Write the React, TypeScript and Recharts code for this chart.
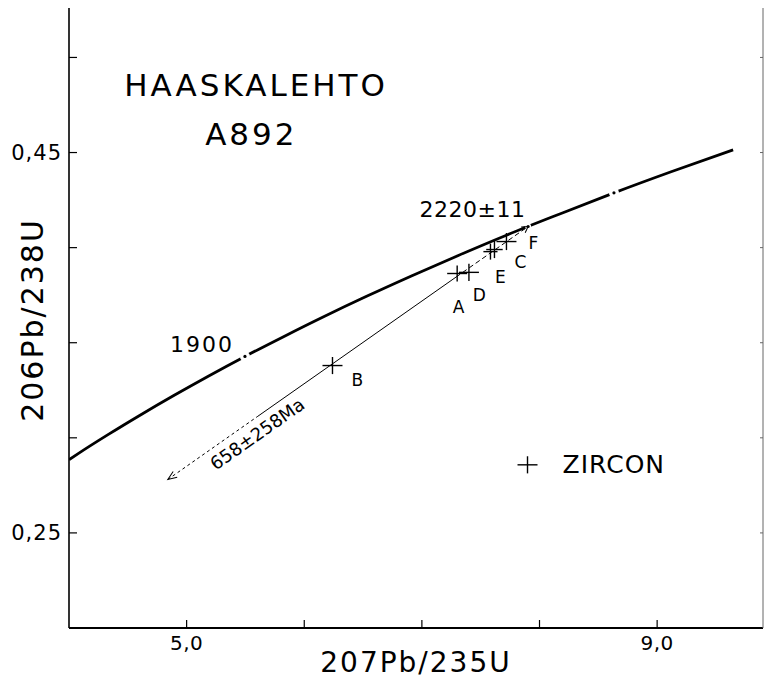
import { ComposedChart, ErrorBar, Line, Scatter, XAxis, YAxis } from "recharts";

const FONT = '"DejaVu Sans", sans-serif';

// concordia: 207Pb/235U vs 206Pb/238U
const concordiaX = [4.0, 4.078, 4.335, 4.604, 4.887, 5.184, 5.496, 5.824, 6.169, 6.53, 6.911, 7.31, 7.729, 8.172, 8.633, 9.119, 9.646];
const concordiaY = [0.2885, 0.2917, 0.3018, 0.3119, 0.3221, 0.3324, 0.3428, 0.3532, 0.3638, 0.3744, 0.3851, 0.3959, 0.4068, 0.4177, 0.4288, 0.4399, 0.4514];

// age marks on the concordia (Ma)
const markAges = [1900, 2220, 2300];
const markX = [5.496, 7.903, 8.633];
const markY = [0.3428, 0.4111, 0.4288];

// discordia pieces
const lowDashX = [4.84, 5.6];
const lowDashY = [0.2781, 0.3111];
const solidX = [5.6, 7.29];
const solidY = [0.3111, 0.3845];
const upDashX = [7.29, 7.903];
const upDashY = [0.3845, 0.4111];

// zircon fractions
const samples = ["A", "B", "C", "D", "E", "F"];
const sampleX = [7.3, 6.24, 7.617, 7.4, 7.583, 7.719];
const sampleY = [0.3864, 0.338, 0.399, 0.387, 0.3979, 0.4032];
const sampleErrX = [0.085, 0.085, 0.07, 0.085, 0.06, 0.085];
const sampleErrY = [0.0042, 0.0045, 0.0045, 0.0045, 0.0042, 0.0045];

const legendX = [7.898];
const legendY = [0.2858];

const xTicks = [5, 6, 7, 8, 9];
const yTicks = [0.25, 0.3, 0.35, 0.4, 0.45, 0.5];
const xTickLabels = ["5,0", "", "", "", "9,0"];
const yTickLabels = ["0,25", "", "", "", "0,45", ""];

const labels = [
  { x: 5.59, y: 0.4795, text: "HAASKALEHTO", kind: "title" },
  { x: 5.55, y: 0.4542, text: "A892", kind: "title" },
  { x: 7.43, y: 0.4163, text: "2220±11", kind: "age" },
  { x: 5.13, y: 0.3453, text: "1900", kind: "age2" },
  { x: 5.6, y: 0.3021, text: "658±258Ma", kind: "line" },
  { x: 7.311, y: 0.3689, text: "A", kind: "sample" },
  { x: 7.489, y: 0.3753, text: "D", kind: "sample" },
  { x: 7.668, y: 0.3847, text: "E", kind: "sample" },
  { x: 7.838, y: 0.3926, text: "C", kind: "sample" },
  { x: 7.949, y: 0.4026, text: "F", kind: "sample" },
  { x: 6.451, y: 0.3305, text: "B", kind: "sample" },
  { x: 8.196, y: 0.2858, text: "ZIRCON", kind: "legend" },
];

const pts = (xs: number[], ys: number[]) => xs.map((x, i) => ({ x, y: ys[i] }));

const labelStyle: Record<string, any> = {
  title: { fontSize: 31, letterSpacing: 3, textAnchor: "middle" },
  age: { fontSize: 22, letterSpacing: 0.5, textAnchor: "middle" },
  age2: { fontSize: 22, letterSpacing: 2, textAnchor: "middle" },
  line: { fontSize: 18, letterSpacing: 0, textAnchor: "middle", dominantBaseline: "central", rotate: -35 },
  sample: { fontSize: 17, letterSpacing: 0, textAnchor: "middle", dominantBaseline: "central" },
  legend: { fontSize: 25, letterSpacing: 1, textAnchor: "start", dominantBaseline: "central" },
};

function LabelShape(p: any) {
  const s = labelStyle[p.payload.kind];
  return (
    <text
      x={p.cx}
      y={p.cy}
      fill="#000"
      fontFamily={FONT}
      fontSize={s.fontSize}
      letterSpacing={s.letterSpacing}
      textAnchor={s.textAnchor}
      dominantBaseline={s.dominantBaseline}
      transform={s.rotate ? `rotate(${s.rotate} ${p.cx} ${p.cy})` : undefined}
    >
      {p.payload.text}
    </text>
  );
}

function MarkShape(p: any) {
  return (
    <g>
      <circle cx={p.cx} cy={p.cy} r={p.payload.age === 2220 ? 3 : 5} fill="#fff" />
      <circle cx={p.cx} cy={p.cy} r={1.6} fill="#000" />
    </g>
  );
}

function XTick(p: any) {
  const label = xTickLabels[xTicks.indexOf(p.payload.value)] ?? "";
  return (
    <text x={p.x} y={p.y} textAnchor="middle" fill="#000" fontSize={20} letterSpacing={0.5} fontFamily={FONT}>
      {label}
    </text>
  );
}

function YTick(p: any) {
  const label = yTickLabels[yTicks.findIndex((t) => Math.abs(t - p.payload.value) < 1e-6)] ?? "";
  return (
    <text x={p.x} y={p.y} textAnchor="end" dominantBaseline="central" fill="#000" fontSize={21} letterSpacing={1} fontFamily={FONT}>
      {label}
    </text>
  );
}

const arrow = (cx: number, cy: number, back: number, key: string) => (
  <path
    key={key}
    d={`M ${back} -3.5 L 0 0 L ${back} 3.5`}
    transform={`translate(${cx} ${cy}) rotate(-35)`}
    fill="none"
    stroke="#000"
    strokeWidth={1}
  />
);

const ids = { xAxisId: "b", yAxisId: "l" };

export default function App() {
  const sampleData = samples.map((name, i) => ({ name, x: sampleX[i], y: sampleY[i], ex: sampleErrX[i], ey: sampleErrY[i] }));
  const legendData = legendX.map((x, i) => ({ x, y: legendY[i], ex: 0.085, ey: 0.0045 }));
  const markData = markAges.map((age, i) => ({ age, x: markX[i], y: markY[i] }));

  return (
    <div style={{ position: "absolute", left: 0, top: 0, background: "#fff" }}>
      <ComposedChart width={765} height={683} margin={{ top: 8, right: 0, bottom: 0, left: 0 }}>
        <XAxis
          xAxisId="b"
          type="number"
          dataKey="x"
          domain={[4, 9.9]}
          allowDataOverflow
          ticks={xTicks}
          tick={XTick}
          tickSize={-8}
          tickMargin={30}
          height={55}
          axisLine={{ stroke: "#000", strokeWidth: 2 }}
          tickLine={{ stroke: "#000", strokeWidth: 1.2 }}
          label={{
            content: (props: any) => {
              const vb = props.viewBox;
              return (
                <text x={vb.x + vb.width / 2} y={672} textAnchor="middle" fill="#000" fontSize={28} letterSpacing={2} fontFamily={FONT}>
                  207Pb/235U
                </text>
              );
            },
          }}
        />
        <XAxis
          xAxisId="t"
          orientation="top"
          type="number"
          domain={[4, 9.9]}
          allowDataOverflow
          ticks={xTicks}
          tickFormatter={() => ""}
          tickSize={-8}
          height={0}
          axisLine={{ stroke: "#000", strokeWidth: 1.5 }}
          tickLine={{ stroke: "#000", strokeWidth: 1.2 }}
        />
        <YAxis
          yAxisId="l"
          type="number"
          domain={[0.2, 0.526]}
          allowDataOverflow
          ticks={yTicks}
          tick={YTick}
          tickSize={-8}
          tickMargin={15}
          width={69}
          axisLine={{ stroke: "#000", strokeWidth: 1.6 }}
          tickLine={{ stroke: "#000", strokeWidth: 1.2 }}
          label={{
            content: (props: any) => {
              const vb = props.viewBox;
              return (
                <text
                  transform={`translate(${vb.x + 43} ${vb.y + vb.height / 2 + 2}) rotate(-90)`}
                  textAnchor="middle"
                  fill="#000"
                  fontSize={30}
                  letterSpacing={2}
                  fontFamily={FONT}
                >
                  206Pb/238U
                </text>
              );
            },
          }}
        />
        <YAxis
          yAxisId="r"
          orientation="right"
          type="number"
          domain={[0.2, 0.526]}
          allowDataOverflow
          ticks={yTicks}
          tickFormatter={() => ""}
          tickSize={-3}
          width={2}
          axisLine={{ stroke: "#666", strokeWidth: 1 }}
          tickLine={{ stroke: "#666", strokeWidth: 1 }}
        />

        <Line {...ids} data={pts(concordiaX, concordiaY)} dataKey="y" type="monotone" stroke="#000" strokeWidth={2.8} dot={false} isAnimationActive={false} />
        <Scatter {...ids} data={markData} dataKey="y" shape={MarkShape} isAnimationActive={false} />

        <Line
          {...ids}
          data={pts(lowDashX, lowDashY)}
          dataKey="y"
          stroke="#000"
          strokeWidth={1}
          strokeDasharray="3 3"
          dot={(p: any) => (p.index === 0 ? arrow(p.cx, p.cy, 9, "la") : <g key={"ld" + p.index} />)}
          activeDot={false}
          isAnimationActive={false}
        />
        <Line {...ids} data={pts(solidX, solidY)} dataKey="y" stroke="#000" strokeWidth={1} dot={false} activeDot={false} isAnimationActive={false} />
        <Line
          {...ids}
          data={pts(upDashX, upDashY)}
          dataKey="y"
          stroke="#000"
          strokeWidth={1}
          strokeDasharray="5 3"
          dot={(p: any) => (p.index === 1 ? arrow(p.cx, p.cy, -6, "ua") : <g key={"ud" + p.index} />)}
          activeDot={false}
          isAnimationActive={false}
        />

        <Scatter {...ids} data={sampleData} dataKey="y" shape={() => <g />} isAnimationActive={false}>
          <ErrorBar dataKey="ex" direction="x" width={0} stroke="#000" strokeWidth={1.4} />
          <ErrorBar dataKey="ey" direction="y" width={0} stroke="#000" strokeWidth={1.4} />
        </Scatter>
        <Scatter {...ids} data={legendData} dataKey="y" shape={() => <g />} isAnimationActive={false}>
          <ErrorBar dataKey="ex" direction="x" width={0} stroke="#000" strokeWidth={1.4} />
          <ErrorBar dataKey="ey" direction="y" width={0} stroke="#000" strokeWidth={1.4} />
        </Scatter>

        <Scatter {...ids} data={labels} dataKey="y" shape={LabelShape} isAnimationActive={false} />
      </ComposedChart>
    </div>
  );
}
